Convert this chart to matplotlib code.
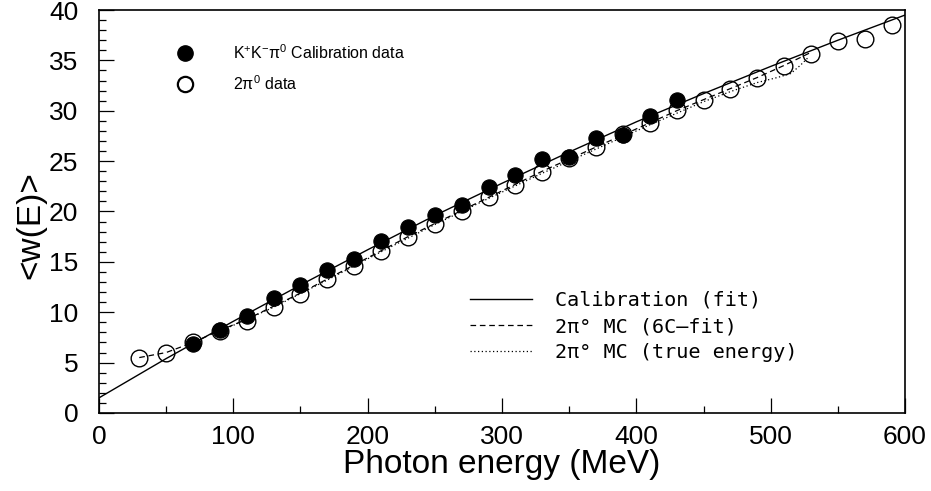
#!/usr/bin/env python3
"""
Mean photon weight <w(E)> versus photon energy: K+K-pi0 calibration data,
2pi0 data, and the calibration fit / MC curves.
"""

import matplotlib
matplotlib.use("Agg")
import matplotlib.pyplot as plt
from matplotlib.lines import Line2D

plt.rcParams["font.family"] = ["Liberation Sans", "DejaVu Sans"]
plt.rcParams["mathtext.default"] = "regular"

# ---------------------------------------------------------------------------
# Data
# ---------------------------------------------------------------------------
energy_kk = [70, 90, 110, 130, 150, 170, 190, 210, 230, 250,
             270, 290, 310, 330, 350, 370, 390, 410, 430]
w_kk = [6.8, 8.25, 9.65, 11.4, 12.75, 14.2, 15.25, 17.05, 18.45, 19.65,
        20.6, 22.45, 23.6, 25.2, 25.45, 27.3, 27.6, 29.5, 31.1]

energy_2pi = [30, 50, 70, 90, 110, 130, 150, 170, 190, 210,
              230, 250, 270, 290, 310, 330, 350, 370, 390, 410,
              430, 450, 470, 490, 510, 530, 550, 570, 590]
w_2pi = [5.45, 6.0, 7.0, 8.1, 9.1, 10.55, 11.8, 13.3, 14.6, 16.1,
         17.5, 18.8, 20.0, 21.45, 22.65, 23.95, 25.3, 26.4, 27.7, 28.8,
         30.1, 31.1, 32.2, 33.3, 34.4, 35.6, 36.9, 37.1, 38.5]

# calibration fit curve
fit_e = [0, 50, 100, 150, 200, 250, 300, 350, 400, 450, 500, 550, 600]
fit_w = [1.5, 5.4, 9.1, 12.7, 16.2, 19.6, 22.8, 25.9, 28.9, 31.7, 34.4, 37.0, 39.5]

# 2pi0 MC, 6C-fit energies
mc6c_e = [30, 50, 70, 90, 110, 130, 150, 170, 190, 210, 230, 250, 270,
          290, 310, 330, 350, 370, 390, 410, 430, 450, 470, 490, 510, 530]
mc6c_w = [5.5, 6.0, 7.0, 8.2, 9.3, 10.6, 11.9, 13.3, 14.7, 16.1, 17.5, 18.8, 20.1,
          21.4, 22.7, 24.0, 25.2, 26.4, 27.6, 28.8, 30.0, 31.1, 32.2, 33.3, 34.5, 35.8]

# 2pi0 MC, true energies
mctrue_e = [90, 130, 170, 210, 250, 290, 330, 370, 410, 450,
            470, 490, 505, 515, 522, 528]
mctrue_w = [8.1, 10.5, 13.2, 16.0, 18.7, 21.3, 23.8, 26.2, 28.6, 30.9,
            31.9, 32.8, 33.3, 33.7, 34.5, 35.3]

lab_kk = "K$^{+}$K$^{-}$π$^{0}$ Calibration data"
lab_2pi = "2π$^{0}$ data"
lab_fit = "Calibration (fit)"
lab_mc6c = "2π° MC (6C—fit)"
lab_mctrue = "2π° MC (true energy)"

# ---------------------------------------------------------------------------
# Figure
# ---------------------------------------------------------------------------
fig = plt.figure(figsize=(9.31, 4.91), dpi=100)
ax = fig.add_axes([0.1063, 0.1589, 0.8658, 0.8207])

dash = (4.5, 3.0)
dots = (1.0, 2.0)

ax.plot(fit_e, fit_w, color="black", lw=1.0, zorder=2)
ax.plot(mc6c_e, mc6c_w, color="black", lw=0.9, dashes=dash, zorder=2)
ax.plot(mctrue_e, mctrue_w, color="black", lw=0.9, dashes=dots, zorder=2)

ax.plot(energy_2pi, w_2pi, ls="none", marker="o", ms=12, mfc="none",
        mec="black", mew=1.0, zorder=3)
ax.plot(energy_kk, w_kk, ls="none", marker="o", ms=11, mfc="black",
        mec="black", mew=0.8, zorder=4)

ax.set_xlim(0, 600)
ax.set_ylim(0, 40)
ax.set_xticks(range(0, 601, 100))
ax.set_xticks(range(0, 601, 50), minor=True)
ax.set_yticks(range(0, 41, 5))
ax.set_yticks(range(0, 41, 1), minor=True)

ax.tick_params(which="both", direction="in", top=False, right=False, width=0.9)
ax.tick_params(which="major", length=10.5, labelsize=19)
ax.tick_params(which="minor", length=5)
ax.tick_params(axis="x", pad=8.5)
ax.tick_params(axis="y", pad=15)
for sp in ax.spines.values():
    sp.set_linewidth(1.2)

ax.set_xlabel("Photon energy (MeV)", fontsize=24)
ax.xaxis.set_label_coords(0.5, -0.089)
ax.set_ylabel("<w(E)>", fontsize=24)
ax.yaxis.set_label_coords(-0.065, 0.467)

# ---------------------------------------------------------------------------
# Legends
# ---------------------------------------------------------------------------
h_kk = Line2D([], [], ls="none", marker="o", ms=11, mfc="black", mec="black")
h_2pi = Line2D([], [], ls="none", marker="o", ms=11, mfc="none", mec="black", mew=1.6)
leg1 = ax.legend([h_kk, h_2pi], [lab_kk, lab_2pi], loc="center left",
                 bbox_to_anchor=(0.0868, 0.856), frameon=False, fontsize=11.5,
                 handlelength=2.0, handletextpad=2.0, borderpad=0,
                 borderaxespad=0, labelspacing=0.75)
ax.add_artist(leg1)

h_fit = Line2D([], [], color="black", lw=1.0)
h_mc6c = Line2D([], [], color="black", lw=0.9, dashes=dash)
h_mctrue = Line2D([], [], color="black", lw=0.9, dashes=dots)
ax.legend([h_fit, h_mc6c, h_mctrue], [lab_fit, lab_mc6c, lab_mctrue],
          loc="center left", bbox_to_anchor=(0.4603, 0.2146), frameon=False,
          prop={"family": "DejaVu Sans Mono", "size": 14.5},
          handlelength=3.1, handletextpad=1.1, borderpad=0,
          borderaxespad=0, labelspacing=0.35)

fig.savefig("out.png", dpi=100)
